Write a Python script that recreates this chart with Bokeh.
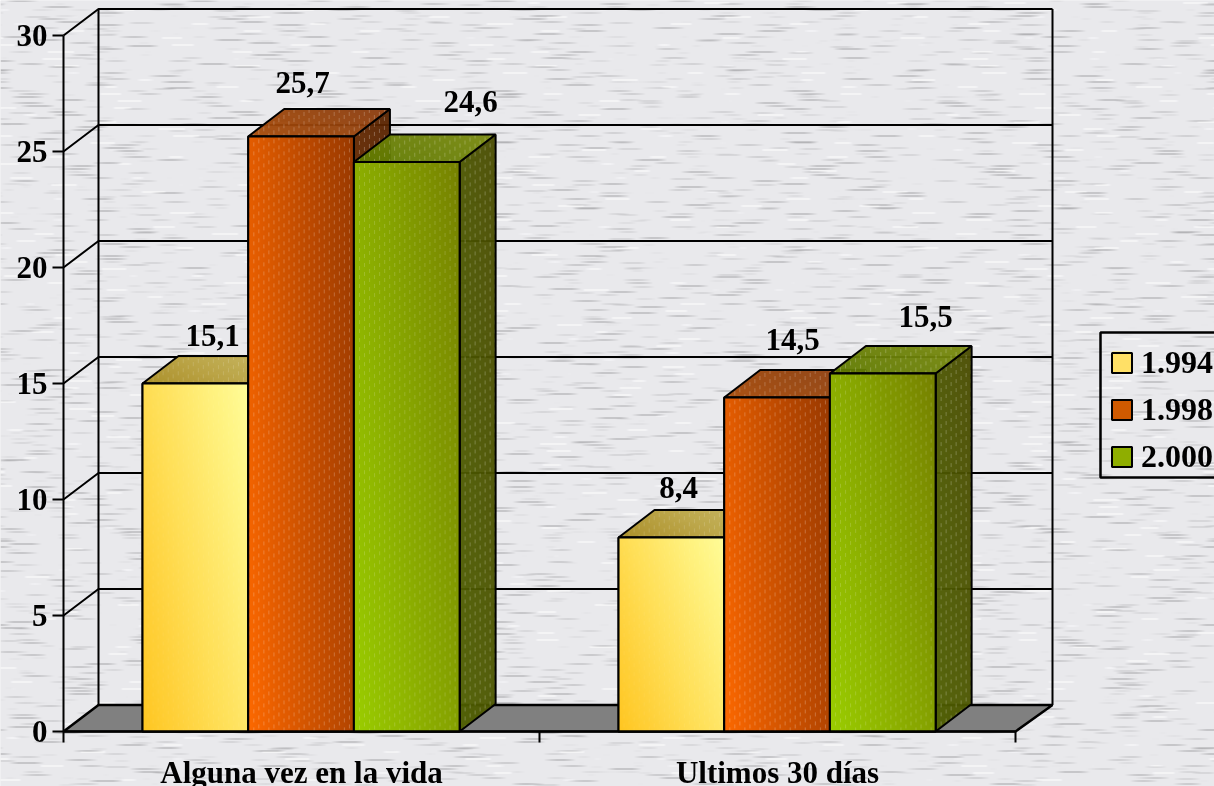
import numpy as np
from bokeh.core.properties import value
from bokeh.embed import file_html
from bokeh.models import FixedTicker, Legend, LegendItem, LinearAxis, Range1d
from bokeh.plotting import figure
from bokeh.resources import INLINE

categories = ["Alguna vez en la vida", "Ultimos 30 días"]
years = ["1.994", "1.998", "2.000"]
values_1994 = [15.0, 8.36]
values_1998 = [25.65, 14.4]
values_2000 = [24.55, 15.43]
label_1994 = ["15,1", "8,4"]
label_1998 = ["25,7", "14,5"]
label_2000 = ["24,6", "15,5"]
y_ticks = [0, 5, 10, 15, 20, 25, 30]

W, H = 1214, 786
PX_X, PX_Y = 476.0, 23.2      # pixels per category / per value unit
X0, Y0 = 63, 731              # page pixel of the origin
DX, DY = 35 / PX_X, 26.5 / PX_Y  # depth of the chart box
WALL_R = 2 + 37 / PX_X
BDX, BDY = 36 / PX_X, 27.5 / PX_Y  # depth of the bars
BW = 105.7 / PX_X             # bar width
BAR0 = 0.166
FONT = "Liberation Serif"

def ux(px):
    return (px - X0) / PX_X

def vy(py):
    return (Y0 - py) / PX_Y

p = figure(width=W, height=H, output_backend="svg", toolbar_location=None,
           x_range=Range1d(ux(0), ux(W)), y_range=Range1d(vy(H), vy(0)),
           x_axis_location=None, y_axis_location=None,
           min_border=0, min_border_left=0, min_border_right=0, min_border_top=0, min_border_bottom=0,
           outline_line_color=None, background_fill_color="#e8e8ea", border_fill_color="#e8e8ea")
p.grid.visible = False
p.styles = {"position": "fixed", "left": "0px", "top": "0px"}

def to_image(rgb, alpha):
    a = np.dstack([np.clip(rgb, 0, 255), np.clip(alpha, 0, 255)]).astype(np.uint8)
    return np.flipud(a).copy().view(np.uint32).reshape(a.shape[:2])

# background paper texture: fine horizontal streaks
yy, xx = np.mgrid[0:H, 0:W].astype(float)
row = yy.astype(int)
def phase(k):
    return (np.sin(row * k) * 43758.5453 % 1.0) * 2 * np.pi
s1 = np.sin(xx * 0.067 + phase(12.9898)) + np.sin(xx * 0.041 + phase(78.233)) + np.sin(xx * 0.103 + phase(37.719))
dark = np.clip(s1 - 0.9, 0, 1.6) / 1.6 * (row % 3 == 0)
dark2 = np.clip(s1 - 1.5, 0, 1.0) * (row % 3 == 1) * (row % 2 == 0)
light = np.clip(-s1 - 1.5, 0, 1) * (row % 7 == 2)
g = 233 - 70 * dark - 35 * dark2 + 60 * light
bg = np.dstack([g, g, g + 3])
p.image_rgba(image=[to_image(bg, np.full((H, W), 255.0))], x=ux(0), y=vy(H), dw=W / PX_X, dh=H / PX_Y)

# walls and floor
p.patch([0, DX, WALL_R, 2], [0, DY, DY, 0], fill_color="#808080", line_color="black", line_width=2.5)
for t in y_ticks[1:]:
    p.line([0, DX, WALL_R], [t, t + DY, t + DY], line_color="black", line_width=2)
p.line([DX, DX], [DY, 30 + DY], line_color="black", line_width=2)
p.line([WALL_R, WALL_R], [DY, 30 + DY], line_color="black", line_width=2)

# axes
yax = LinearAxis(fixed_location=0, bounds=(0, 30), ticker=FixedTicker(ticks=y_ticks), axis_line_color="black",
                 axis_line_width=2, major_tick_line_color="black", major_tick_line_width=2, major_tick_out=11,
                 major_tick_in=0, minor_tick_line_color=None, major_label_standoff=5, major_label_text_font=FONT,
                 major_label_text_font_size="31px", major_label_text_font_style="bold", major_label_text_color="black")
p.add_layout(yax, "left")
xax = LinearAxis(fixed_location=0, bounds=(0, 2), ticker=FixedTicker(ticks=[0, 1, 2]), axis_line_color="black",
                 axis_line_width=2, major_tick_line_color="black", major_tick_line_width=2, major_tick_out=11,
                 major_tick_in=0, minor_tick_line_color=None, major_label_text_font_size="0px",
                 major_label_text_color=None)
p.add_layout(xax, "below")
xlab = LinearAxis(fixed_location=0, ticker=FixedTicker(ticks=[0.5, 1.5]),
                  major_label_overrides={0.5: categories[0], 1.5: categories[1]},
                  axis_line_color=None, major_tick_line_color=None, minor_tick_line_color=None,
                  major_label_standoff=17, major_label_text_font=FONT, major_label_text_font_size="31px",
                  major_label_text_font_style="bold", major_label_text_color="black")
p.add_layout(xlab, "below")

def hexrgb(h):
    return np.array([int(h[i:i + 2], 16) for i in (1, 3, 5)], float)

def face(w, h, kind, c0, c1, mix, dash):
    """Gradient image for a face whose bounding box is w,h (data units)."""
    nx, ny = max(int(round(w * PX_X)), 1), max(int(round(h * PX_Y)), 1)
    py, px = np.mgrid[0:ny, 0:nx].astype(float) + 0.5
    s, t = px / nx, 1 - py / ny
    k = np.clip(mix * s + (1 - mix) * t, 0, 1)[..., None]
    rgb = hexrgb(c0) * (1 - k) + hexrgb(c1) * k
    col = (px // 5).astype(int)
    d = ((px % 5) < 1.2) & (((py + col * 3) % 9) < 4)
    rgb = rgb + d[..., None] * dash * (255 - rgb)
    alpha = np.full((ny, nx), 242.0)
    if kind == "top":
        shift = BDX * PX_X * t
        alpha[(px < shift) | (px > nx - BDX * PX_X + shift)] = 0
    elif kind == "side":
        shift = BDY * PX_Y * s
        alpha[(t * ny < shift) | (t * ny > ny - BDY * PX_Y + shift)] = 0
    return to_image(rgb, alpha)

series = [
    dict(vals=values_1994, name=years[0], mid="#ffe066", front=("#ffc41e", "#ffff9c", 0.6, 0.05),
         top=("#a98c20", "#c9b860", 0.7, 0.14), side=("#a58a30", "#b09a40", 0.5, 0.08),
         swatch=("#ffc41e", "#ffff9c")),
    dict(vals=values_1998, name=years[1], mid="#d05a00", front=("#ff6a00", "#963800", 0.75, 0.24),
         top=("#a84c08", "#8a3c10", 0.7, 0.22), side=("#6b2c00", "#5a2400", 0.5, 0.26),
         swatch=("#ff6a00", "#963800")),
    dict(vals=values_2000, name=years[2], mid="#8fae00", front=("#9ccf00", "#757f00", 0.6, 0.17),
         top=("#5f7a00", "#7a8a10", 0.7, 0.22), side=("#4f6000", "#4a4c00", 0.5, 0.24),
         swatch=("#9ccf00", "#757f00")),
]

legend_items = []
for si, S in enumerate(series):
    left = [g + BAR0 + si * BW for g in range(2)]
    right = [l + BW for l in left]
    tops = S["vals"]
    bottoms = [0, 0]
    for l, r, v in zip(left, right, tops):
        c0, c1, mix, dash = S["side"]
        p.image_rgba(image=[face(BDX, v + BDY, "side", c0, c1, mix, dash)], x=r, y=0, dw=BDX, dh=v + BDY)
        p.patch([r, r + BDX, r + BDX, r], [0, BDY, v + BDY, v], fill_color=None, line_color="black", line_width=2)
    for l, r, v in zip(left, right, tops):
        c0, c1, mix, dash = S["top"]
        p.image_rgba(image=[face(BW + BDX, BDY, "top", c0, c1, mix, dash)], x=l, y=v, dw=BW + BDX, dh=BDY)
        p.patch([l, r, r + BDX, l + BDX], [v, v, v + BDY, v + BDY], fill_color=None, line_color="black", line_width=2)
    quad = p.quad(left=left, right=right, top=tops, bottom=bottoms, fill_color=S["mid"], line_color="black", line_width=2)
    c0, c1, mix, dash = S["front"]
    for l, v in zip(left, tops):
        p.image_rgba(image=[face(BW, v, "front", c0, c1, mix, dash)], x=l, y=0, dw=BW, dh=v)
    p.quad(left=left, right=right, top=tops, bottom=bottoms, fill_color=None, line_color="black", line_width=2)
    legend_items.append(LegendItem(label=S["name"], renderers=[quad]))

# data labels (hand-placed in the original: page pixels of their centres)
label_x = [212, 678, 302, 792, 470, 925]
label_y = [335, 487, 82, 339, 101, 316]
label_t = [label_1994[0], label_1994[1], label_1998[0], label_1998[1], label_2000[0], label_2000[1]]
p.text(x=[ux(a) for a in label_x], y=[vy(b) for b in label_y], text=label_t, text_align="center",
       text_baseline="middle", text_font=value(FONT), text_font_size="31px", text_font_style="bold",
       text_color="black")

# legend: box, then entries
p.line([ux(1214), ux(1100), ux(1100), ux(1214)], [vy(332), vy(332), vy(477), vy(477)], line_color="black", line_width=2.5)
legend = Legend(items=legend_items, location=(1109, H - 475), orientation="vertical",
                background_fill_alpha=0, border_line_color=None,
                glyph_width=25, glyph_height=25, label_standoff=7, spacing=10, padding=11, margin=0,
                label_height=34, label_text_font=FONT, label_text_font_size="32px",
                label_text_font_style="bold", label_text_color="black", label_text_baseline="middle")
p.add_layout(legend, "center")

# gradient fill of the legend swatches
for si, S in enumerate(series):
    a, b = S["swatch"]
    n = 18
    py, px = np.mgrid[0:n, 0:n].astype(float)
    k = ((px + (n - 1 - py)) / (2 * n - 2))[..., None]
    rgb = hexrgb(a) * (1 - k) + hexrgb(b) * k
    rows = [360, 408, 456][si]
    p.image_rgba(image=[to_image(rgb, np.full((n, n), 255.0))], x=ux(1112), y=vy(rows + 9), dw=n / PX_X, dh=n / PX_Y,
                 level="overlay")

open("out.html", "w").write(file_html(p, INLINE))
